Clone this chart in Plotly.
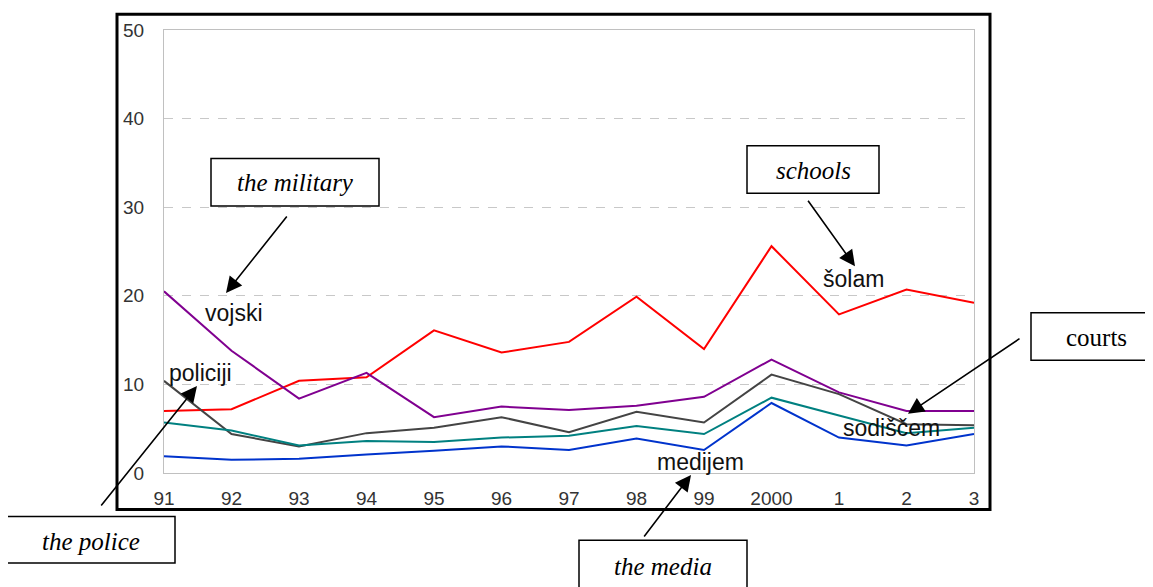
import plotly.graph_objects as go

years = ["91", "92", "93", "94", "95", "96", "97", "98", "99", "2000", "1", "2", "3"]
solam = [7.0, 7.2, 10.4, 10.8, 16.1, 13.6, 14.8, 19.9, 14.0, 25.6, 17.9, 20.7, 19.2]
vojski = [20.5, 13.8, 8.4, 11.3, 6.3, 7.5, 7.1, 7.6, 8.6, 12.8, 9.1, 7.0, 7.0]
policiji = [10.4, 4.4, 3.0, 4.5, 5.1, 6.3, 4.6, 6.9, 5.7, 11.1, 8.9, 5.5, 5.4]
sodiscem = [5.7, 4.8, 3.1, 3.6, 3.5, 4.0, 4.2, 5.3, 4.4, 8.5, 6.5, 4.5, 5.1]
medijem = [1.9, 1.5, 1.6, 2.1, 2.5, 3.0, 2.6, 3.9, 2.6, 7.9, 4.0, 3.1, 4.4]

series = [
    ("šolam", solam, "#ff0000"),
    ("vojski", vojski, "#800090"),
    ("policiji", policiji, "#444444"),
    ("sodiščem", sodiscem, "#008080"),
    ("medijem", medijem, "#0033cc"),
]

OFF = 8  # page body margin
W, H = 1145, 579
L, R, T, B = 164, 974, 25, 473  # screen pixels of plot area

def px(x):
    return (x - L) / (R - L)

def py(y):
    return (B - y) / (B - T)

xs = list(range(len(years)))
fig = go.Figure()
for name, vals, col in series:
    fig.add_trace(go.Scatter(x=xs, y=vals, mode="lines", name=name,
                             line=dict(color=col, width=2), showlegend=False))

shapes = []
shapes.append(dict(type="rect", xref="paper", yref="paper",
                   x0=px(117), x1=px(990), y0=py(510), y1=py(9),
                   line=dict(color="black", width=3)))

boxes = [
    ("the military", 211, 379, 155, 203, True, 295, 179),
    ("schools", 747, 879, 142, 190, True, 813, 167),
    ("courts", 1031, 1170, 311, 359, False, 1096, 336),
    ("the police", 7, 175, 517, 564, True, 91, 542),
    ("the media", 579, 747, 541, 610, True, 663, 568),
]
annotations = []
for text, x0, x1, y0, y1, ital, cx, cy in boxes:
    shapes.append(dict(type="rect", xref="paper", yref="paper",
                       x0=px(x0), x1=px(x1), y0=py(y1), y1=py(y0),
                       line=dict(color="black", width=1.5), fillcolor="white"))
    annotations.append(dict(xref="paper", yref="paper", x=px(cx), y=py(cy),
                            text=("<i>%s</i>" % text) if ital else text,
                            showarrow=False, xanchor="center", yanchor="middle",
                            font=dict(family="Liberation Serif", size=25, color="black")))

arrows = [
    ((226, 291), (288, 213)),
    ((855, 264), (807, 197)),
    ((908, 413), (1021, 337)),
    ((197, 385), (100, 506)),
    ((691, 475), (643, 538)),
]
for (tx, ty), (sx, sy) in arrows:
    annotations.append(dict(xref="paper", yref="paper", x=px(tx), y=py(ty),
                            ax=sx - tx, ay=sy - ty, axref="pixel", ayref="pixel",
                            text="", showarrow=True, arrowhead=2, arrowsize=2.0,
                            arrowwidth=1.6, arrowcolor="black"))

labels = [
    ("vojski", 234, 311),
    ("policiji", 200, 372),
    ("šolam", 853, 277),
    ("sodiščem", 891, 427),
    ("medijem", 700, 462),
]
for text, x, y in labels:
    annotations.append(dict(xref="paper", yref="paper", x=px(x), y=py(y), text=text,
                            showarrow=False, xanchor="center", yanchor="middle",
                            font=dict(family="Liberation Sans", size=23, color="#111111")))

fig.update_layout(
    width=W, height=H,
    margin=dict(l=L - OFF, r=W - (R - OFF), t=T - OFF, b=H - (B - OFF), pad=0),
    paper_bgcolor="white", plot_bgcolor="white",
    shapes=shapes, annotations=annotations,
    xaxis=dict(range=[0, 12], tickvals=xs, ticktext=years, showgrid=False, zeroline=False,
               showline=True, linecolor="#c0c0c0", linewidth=1, mirror=True,
               ticks="outside", ticklen=8, tickcolor="rgba(0,0,0,0)",
               tickfont=dict(family="Liberation Sans", size=19, color="#333333")),
    yaxis=dict(range=[0, 50], tickvals=[0, 10, 20, 30, 40, 50], showgrid=True,
               gridcolor="#c8c8c8", griddash="dash", gridwidth=1, zeroline=False,
               showline=True, linecolor="#c0c0c0", linewidth=1, mirror=True,
               ticks="outside", ticklen=15, tickcolor="rgba(0,0,0,0)",
               tickfont=dict(family="Liberation Sans", size=19, color="#333333")),
)
fig.write_html("out.html")
